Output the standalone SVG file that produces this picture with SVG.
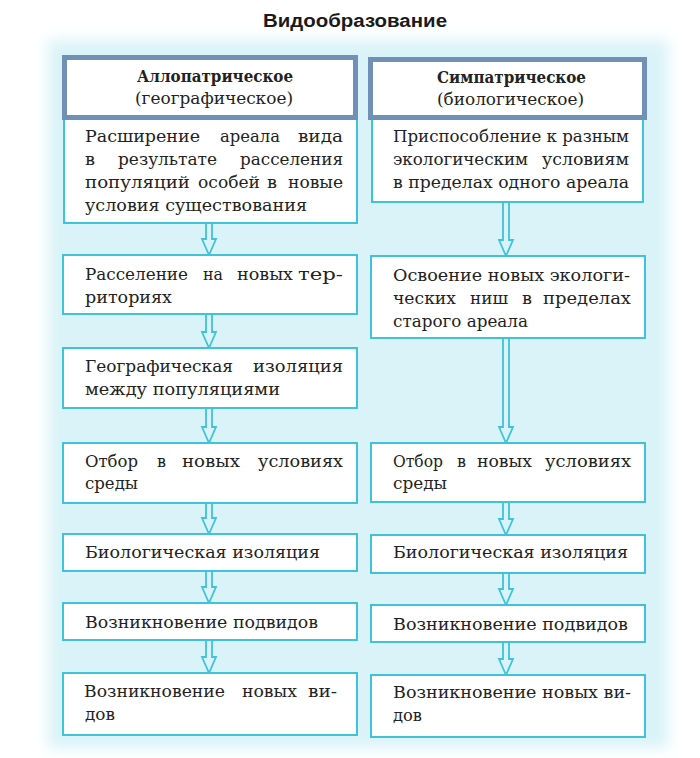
<svg xmlns="http://www.w3.org/2000/svg" width="700" height="758" viewBox="0 0 700 758">
<style>
.box{fill:#ffffff;stroke:#3ec3da;stroke-width:2}
.hdr{fill:#ffffff;stroke:#7190b6;stroke-width:5}
.t{font-family:"DejaVu Serif","Liberation Serif",serif;font-size:16.5px;fill:#222222}
.h{font-family:"DejaVu Serif","Liberation Serif",serif;font-size:16px;fill:#222222}
.b{font-weight:bold}
.title{font-family:"Liberation Sans",Arial,sans-serif;font-size:18px;font-weight:bold;fill:#1a1a1a}
.arr{fill:none;stroke:#3ec3da;stroke-width:1.8;stroke-linejoin:miter}
</style>
<defs>
<filter id="soft" x="-10%" y="-10%" width="120%" height="120%"><feGaussianBlur stdDeviation="7"/></filter>
</defs>
<rect x="0" y="0" width="700" height="758" fill="#ffffff"/>
<rect x="48" y="40" width="620" height="708" fill="#d9f3f8" filter="url(#soft)"/>
<text class="title" x="263" y="27" textLength="184" lengthAdjust="spacingAndGlyphs">Видообразование</text>

<g id="connectors">
<path class="arr" d="M206,223 V239 H202 L209,255 L216,239 H212 V223"/>
<path class="arr" d="M206,314 V332 H202 L209,348 L216,332 H212 V314"/>
<path class="arr" d="M206,408 V427 H202 L209,443 L216,427 H212 V408"/>
<path class="arr" d="M206,503 V518 H202 L209,534 L216,518 H212 V503"/>
<path class="arr" d="M206,571 V587 H202 L209,603 L216,587 H212 V571"/>
<path class="arr" d="M206,640 V657 H202 L209,673 L216,657 H212 V640"/>
<path class="arr" d="M503,202 V240 H499 L506,256 L513,240 H509 V202"/>
<path class="arr" d="M503,338 V427 H499 L506,443 L513,427 H509 V338"/>
<path class="arr" d="M503,502 V519 H499 L506,535 L513,519 H509 V502"/>
<path class="arr" d="M503,573 V589 H499 L506,605 L513,589 H509 V573"/>
<path class="arr" d="M503,642 V659 H499 L506,675 L513,659 H509 V642"/>
</g>

<g id="allo-box1">
<rect class="box" x="64" y="119" width="293" height="104"/>
<text class="t" x="85" y="142" textLength="115" lengthAdjust="spacingAndGlyphs">Расширение</text>
<text class="t" x="220" y="142" textLength="60" lengthAdjust="spacingAndGlyphs">ареала</text>
<text class="t" x="298" y="142" textLength="45" lengthAdjust="spacingAndGlyphs">вида</text>
<text class="t" x="85" y="165" textLength="10" lengthAdjust="spacingAndGlyphs">в</text>
<text class="t" x="118" y="165" textLength="99" lengthAdjust="spacingAndGlyphs">результате</text>
<text class="t" x="240" y="165" textLength="103" lengthAdjust="spacingAndGlyphs">расселения</text>
<text class="t" x="85" y="188" textLength="105" lengthAdjust="spacingAndGlyphs">популяций</text>
<text class="t" x="198" y="188" textLength="62" lengthAdjust="spacingAndGlyphs">особей</text>
<text class="t" x="267" y="188" textLength="10" lengthAdjust="spacingAndGlyphs">в</text>
<text class="t" x="288" y="188" textLength="55" lengthAdjust="spacingAndGlyphs">новые</text>
<text class="t" x="85" y="211" textLength="222" lengthAdjust="spacingAndGlyphs">условия существования</text>
</g>
<g id="allo-header">
<rect class="hdr" x="64.5" y="57.5" width="291" height="60"/>
<text class="h b" x="137" y="82" textLength="156" lengthAdjust="spacingAndGlyphs">Аллопатрическое</text>
<text class="h" x="135" y="104" textLength="158" lengthAdjust="spacingAndGlyphs">(географическое)</text>
</g>
<g id="allo-box2">
<rect class="box" x="63" y="255" width="294" height="59"/>
<text class="t" x="85" y="280" textLength="103" lengthAdjust="spacingAndGlyphs">Расселение</text>
<text class="t" x="203" y="280" textLength="20" lengthAdjust="spacingAndGlyphs">на</text>
<text class="t" x="237" y="280" textLength="56" lengthAdjust="spacingAndGlyphs">новых</text>
<text class="t" x="298" y="280" textLength="45" lengthAdjust="spacingAndGlyphs">тер-</text>
<text class="t" x="85" y="303" textLength="87" lengthAdjust="spacingAndGlyphs">риториях</text>
</g>
<g id="allo-box3">
<rect class="box" x="63" y="348" width="294" height="60"/>
<text class="t" x="85" y="372" textLength="148" lengthAdjust="spacingAndGlyphs">Географическая</text>
<text class="t" x="253" y="372" textLength="90" lengthAdjust="spacingAndGlyphs">изоляция</text>
<text class="t" x="85" y="395" textLength="195" lengthAdjust="spacingAndGlyphs">между популяциями</text>
</g>
<g id="allo-box4">
<rect class="box" x="63" y="443" width="294" height="60"/>
<text class="t" x="85" y="467" textLength="53" lengthAdjust="spacingAndGlyphs">Отбор</text>
<text class="t" x="157" y="467" textLength="9" lengthAdjust="spacingAndGlyphs">в</text>
<text class="t" x="182" y="467" textLength="58" lengthAdjust="spacingAndGlyphs">новых</text>
<text class="t" x="258" y="467" textLength="85" lengthAdjust="spacingAndGlyphs">условиях</text>
<text class="t" x="85" y="489" textLength="53" lengthAdjust="spacingAndGlyphs">среды</text>
</g>
<g id="allo-box5">
<rect class="box" x="63" y="534" width="294" height="37"/>
<text class="t" x="85" y="558" textLength="235" lengthAdjust="spacingAndGlyphs">Биологическая изоляция</text>
</g>
<g id="allo-box6">
<rect class="box" x="63" y="603" width="294" height="37"/>
<text class="t" x="85" y="628" textLength="233" lengthAdjust="spacingAndGlyphs">Возникновение подвидов</text>
</g>
<g id="allo-box7">
<rect class="box" x="63" y="673" width="294" height="62"/>
<text class="t" x="84" y="697" textLength="141" lengthAdjust="spacingAndGlyphs">Возникновение</text>
<text class="t" x="242" y="697" textLength="55" lengthAdjust="spacingAndGlyphs">новых</text>
<text class="t" x="308" y="697" textLength="29" lengthAdjust="spacingAndGlyphs">ви-</text>
<text class="t" x="85" y="720" textLength="30" lengthAdjust="spacingAndGlyphs">дов</text>
</g>

<g id="simpa-box1">
<rect class="box" x="372" y="119" width="271" height="83"/>
<text class="t" x="393" y="142" textLength="236" lengthAdjust="spacingAndGlyphs">Приспособление к разным</text>
<text class="t" x="393" y="165" textLength="135" lengthAdjust="spacingAndGlyphs">экологическим</text>
<text class="t" x="542" y="165" textLength="87" lengthAdjust="spacingAndGlyphs">условиям</text>
<text class="t" x="393" y="188" textLength="236" lengthAdjust="spacingAndGlyphs">в пределах одного ареала</text>
</g>
<g id="simpa-header">
<rect class="hdr" x="370.5" y="59.5" width="274" height="58"/>
<text class="h b" x="437" y="83" textLength="149" lengthAdjust="spacingAndGlyphs">Симпатрическое</text>
<text class="h" x="437" y="105" textLength="147" lengthAdjust="spacingAndGlyphs">(биологическое)</text>
</g>
<g id="simpa-box2">
<rect class="box" x="371" y="256" width="274" height="82"/>
<text class="t" x="393" y="281" textLength="237" lengthAdjust="spacingAndGlyphs">Освоение новых экологи-</text>
<text class="t" x="393" y="304" textLength="63" lengthAdjust="spacingAndGlyphs">ческих</text>
<text class="t" x="470" y="304" textLength="38" lengthAdjust="spacingAndGlyphs">ниш</text>
<text class="t" x="522" y="304" textLength="10" lengthAdjust="spacingAndGlyphs">в</text>
<text class="t" x="543" y="304" textLength="88" lengthAdjust="spacingAndGlyphs">пределах</text>
<text class="t" x="393" y="327" textLength="135" lengthAdjust="spacingAndGlyphs">старого ареала</text>
</g>
<g id="simpa-box3">
<rect class="box" x="371" y="443" width="274" height="59"/>
<text class="t" x="393" y="467" textLength="50" lengthAdjust="spacingAndGlyphs">Отбор</text>
<text class="t" x="457" y="467" textLength="9" lengthAdjust="spacingAndGlyphs">в</text>
<text class="t" x="477" y="467" textLength="55" lengthAdjust="spacingAndGlyphs">новых</text>
<text class="t" x="545" y="467" textLength="86" lengthAdjust="spacingAndGlyphs">условиях</text>
<text class="t" x="393" y="489" textLength="54" lengthAdjust="spacingAndGlyphs">среды</text>
</g>
<g id="simpa-box4">
<rect class="box" x="371" y="535" width="274" height="38"/>
<text class="t" x="393" y="558" textLength="235" lengthAdjust="spacingAndGlyphs">Биологическая изоляция</text>
</g>
<g id="simpa-box5">
<rect class="box" x="371" y="605" width="274" height="37"/>
<text class="t" x="393" y="630" textLength="235" lengthAdjust="spacingAndGlyphs">Возникновение подвидов</text>
</g>
<g id="simpa-box6">
<rect class="box" x="371" y="675" width="274" height="62"/>
<text class="t" x="393" y="698" textLength="238" lengthAdjust="spacingAndGlyphs">Возникновение новых ви-</text>
<text class="t" x="393" y="721" textLength="29" lengthAdjust="spacingAndGlyphs">дов</text>
</g>
</svg>
